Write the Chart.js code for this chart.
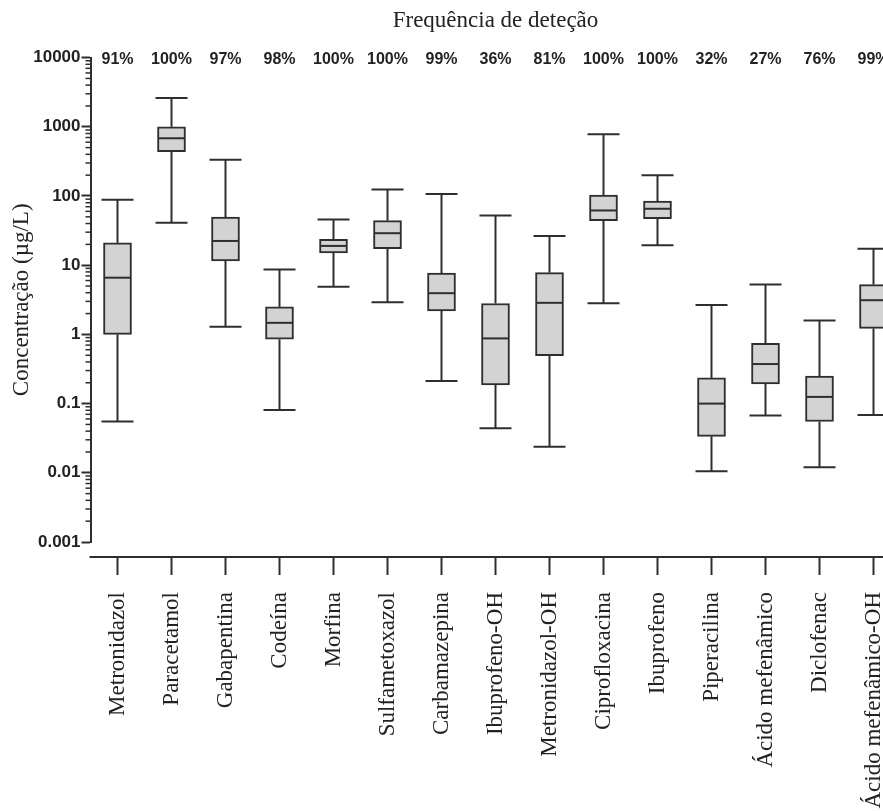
<!DOCTYPE html>
<html>
<head>
<meta charset="utf-8">
<script src="https://cdn.jsdelivr.net/npm/chart.js@4.4.1/dist/chart.umd.min.js"></script>
<style>
  html, body { margin: 0; padding: 0; background: #fff; overflow: hidden; }
  canvas { display: block; }
</style>
</head>
<body>
<canvas id="grafico" width="905" height="850"></canvas>
<script>

// Dados --> boxplot (log)

const categorias = ['Metronidazol','Paracetamol','Gabapentina','Codeína','Morfina','Sulfametoxazol','Carbamazepina','Ibuprofeno-OH','Metronidazol-OH','Ciprofloxacina','Ibuprofeno','Piperacilina','Ácido mefenâmico','Diclofenac','Ácido mefenâmico-OH']
const frequencia = ['91%','100%','97%','98%','100%','100%','99%','36%','81%','100%','100%','32%','27%','76%','99%']

const minimo  = [0.055, 41,   1.29, 0.081, 4.87, 2.92, 0.212, 0.0442, 0.0238, 2.83, 19.4, 0.0105, 0.0673, 0.012,  0.0687]
const q1      = [1.0,   438,  11.5, 0.85,  15,   17.3, 2.19,  0.186,  0.493,  44,   46.9, 0.0336, 0.192,  0.0552, 1.22]
const mediana = [6.6,   683,  22.4, 1.47,  19,   29,   3.94,  0.875,  2.86,   61.8, 65.4, 0.1,    0.373,  0.125,  3.12]
const q3      = [21,    1000, 49.7, 2.5,   23.6, 44,   7.7,   2.8,    7.8,    103,  84.4, 0.235,  0.742,  0.25,   5.25]
const maximo  = [88,    2600, 333,  8.7,   45.8, 124,  107,   52.4,   26.4,   780,  200,  2.65,   5.25,   1.59,   17.3]

const ticksY = [0.001, 0.01, 0.1, 1, 10, 100, 1000, 10000]

const corLinha = '#2e2e2e'
const serif = '"Liberation Serif", "Times New Roman", serif'
const sans = '"Liberation Sans", Arial, sans-serif'


function linha(ctx, x1, y1, x2, y2) {
    ctx.beginPath();
    ctx.moveTo(x1, y1);
    ctx.lineTo(x2, y2);
    ctx.stroke();
}

// bigodes, mediana, eixos extras e percentagens
const extras = {
    id: 'extras',
    afterDatasetsDraw(chart) {
        const ctx = chart.ctx;
        const x = chart.scales.x;
        const y = chart.scales.y;
        const meta = chart.getDatasetMeta(0);
        ctx.save();
        ctx.strokeStyle = corLinha;
        ctx.lineWidth = 2;
        for (let i = 0; i < categorias.length; i++) {
            const px = x.getPixelForValue(i);
            const meio = meta.data[i].width / 2 - 1;
            linha(ctx, px, y.getPixelForValue(minimo[i]), px, y.getPixelForValue(q1[i]));
            linha(ctx, px, y.getPixelForValue(q3[i]), px, y.getPixelForValue(maximo[i]));
            linha(ctx, px - 16, y.getPixelForValue(minimo[i]), px + 16, y.getPixelForValue(minimo[i]));
            linha(ctx, px - 16, y.getPixelForValue(maximo[i]), px + 16, y.getPixelForValue(maximo[i]));
            linha(ctx, px - meio, y.getPixelForValue(mediana[i]), px + meio, y.getPixelForValue(mediana[i]));
        }
        ctx.restore();
    },
    afterDraw(chart) {
        const ctx = chart.ctx;
        const area = chart.chartArea;
        const x = chart.scales.x;
        const y = chart.scales.y;
        ctx.save();
        ctx.strokeStyle = corLinha;

        // ticks menores do eixo y
        ctx.lineWidth = 1.5;
        for (let k = -3; k < 4; k++) {
            for (let m = 2; m < 10; m++) {
                const py = y.getPixelForValue(m * Math.pow(10, k));
                linha(ctx, area.left - 5, py, area.left, py);
            }
        }

        // eixo x deslocado
        ctx.lineWidth = 2;
        const y0 = area.bottom + 15;
        linha(ctx, area.left - 1, y0, chart.width, y0);
        for (let i = 0; i < categorias.length; i++) {
            const px = x.getPixelForValue(i);
            linha(ctx, px, y0, px, y0 + 18);
        }

        // frequencia de detecao
        ctx.fillStyle = '#222';
        ctx.font = 'bold 16px ' + sans;
        ctx.textAlign = 'center';
        ctx.textBaseline = 'middle';
        for (let i = 0; i < frequencia.length; i++) {
            ctx.fillText(frequencia[i], x.getPixelForValue(i), area.top + 2);
        }
        ctx.restore();
    }
};


const grafico = document.getElementById('grafico');

new Chart(grafico, {
    type: 'bar',
    data: {
        labels: categorias,
        datasets: [
            {
                label: 'Concentração',
                data: q1.map((v, i) => [v, q3[i]]),
                backgroundColor: '#d3d3d3',
                borderColor: corLinha,
                borderWidth: 2,
                borderSkipped: false,
                barThickness: 28
            }
        ]
    },
    options: {
        responsive: false,
        animation: false,
        layout: {
            padding: { left: 0, right: 4.5, top: 0, bottom: 0 }
        },
        plugins: {
            legend: { display: false },
            tooltip: { enabled: false },
            title: {
                display: true,
                text: 'Frequência de deteção',
                fullSize: false,
                color: '#222',
                font: { family: serif, size: 23, weight: 'normal' },
                padding: { top: 7, bottom: 23 }
            }
        },
        scales: {
            x: {
                type: 'category',
                grid: { display: false },
                border: { display: false },
                ticks: {
                    color: '#222',
                    font: { family: serif, size: 23 },
                    maxRotation: 90,
                    minRotation: 90,
                    autoSkip: false,
                    padding: 42
                },
                afterFit: (scale) => {
                    scale.height = 308;
                    scale.paddingLeft = 0;
                    scale.paddingRight = 0;
                }
            },
            y: {
                type: 'logarithmic',
                min: 0.001,
                max: 10000,
                afterBuildTicks: (scale) => { scale.ticks = ticksY.map(v => ({ value: v })); },
                grid: {
                    drawOnChartArea: false,
                    drawTicks: true,
                    tickLength: 9,
                    tickWidth: 2,
                    tickColor: corLinha
                },
                border: { display: true, color: corLinha, width: 2 },
                ticks: {
                    color: '#222',
                    font: { family: sans, size: 17, weight: 'bold' },
                    padding: 1,
                    callback: (v) => String(v)
                },
                title: {
                    display: true,
                    text: 'Concentração (µg/L)',
                    color: '#222',
                    font: { family: serif, size: 23 },
                    padding: { top: 8, bottom: 0 }
                },
                afterFit: (scale) => {
                    scale.width = 90.5;
                    scale.paddingTop = 0;
                    scale.paddingBottom = 0;
                }
            }
        }
    },
    plugins: [extras]
})

</script>
</body>
</html>
